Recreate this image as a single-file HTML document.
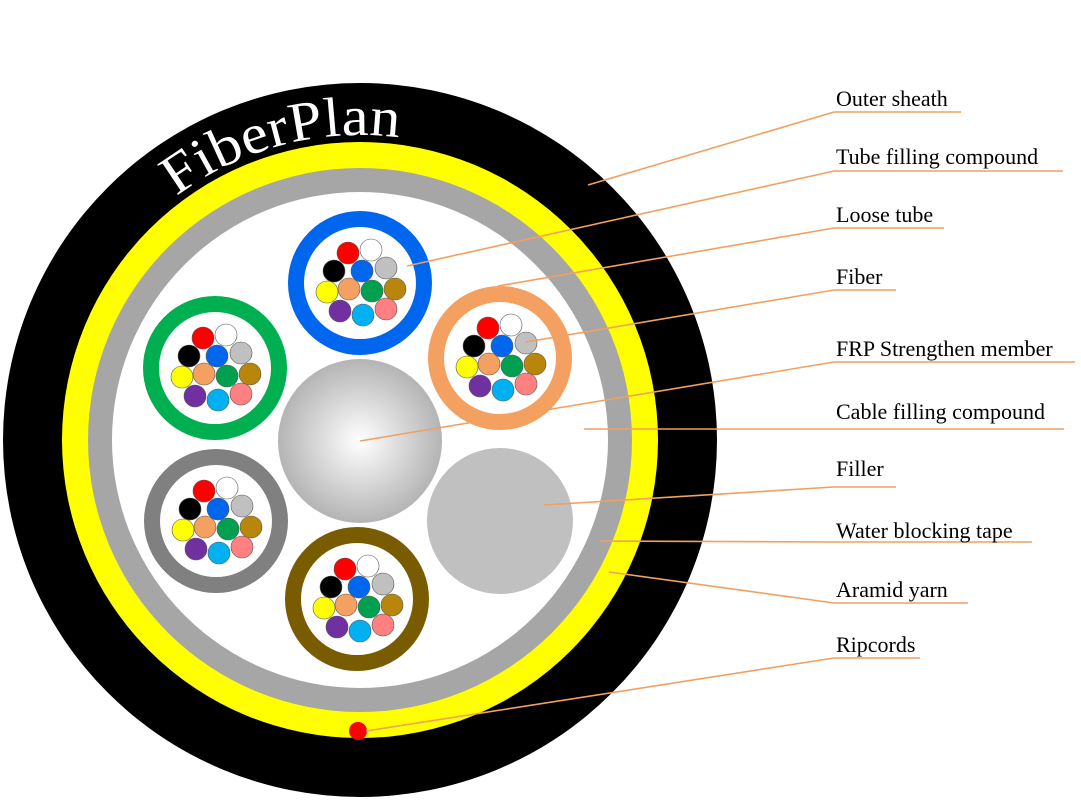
<!DOCTYPE html>
<html><head><meta charset="utf-8"><style>
html,body{margin:0;padding:0;background:#fff;}
svg{display:block;}
text.l{font-family:"Liberation Serif",serif;font-size:22px;fill:#000;}
</style></head><body>
<svg width="1081" height="800" viewBox="0 0 1081 800" xmlns="http://www.w3.org/2000/svg">
<defs>
<radialGradient id="frp" cx="0.5" cy="0.5" r="0.5">
<stop offset="0" stop-color="#ffffff"/><stop offset="1" stop-color="#b4b4b4"/>
</radialGradient>
<g id="fib" stroke="#555" stroke-width="0.6">
<circle cx="-12" cy="-30" r="11" fill="#ff0000"/>
<circle cx="11" cy="-33" r="11" fill="#ffffff"/>
<circle cx="-26" cy="-12" r="11" fill="#000000"/>
<circle cx="26" cy="-15" r="11" fill="#c0c0c0"/>
<circle cx="2" cy="-12" r="11" fill="#0066ee"/>
<circle cx="-33" cy="9" r="11" fill="#ffff00"/>
<circle cx="35" cy="6" r="11" fill="#b8860b"/>
<circle cx="-11" cy="6" r="11" fill="#f4a060"/>
<circle cx="12" cy="8" r="11" fill="#00a050"/>
<circle cx="-20" cy="28" r="11" fill="#7030a0"/>
<circle cx="26" cy="26" r="11" fill="#ff8080"/>
<circle cx="3" cy="32" r="11" fill="#00b0f0"/>
</g>
<path id="arc" d="M 176.4 196.4 A 305 305 0 0 1 397.2 137.3" fill="none"/>
</defs>
<circle cx="360" cy="440" r="357" fill="#000"/>
<circle cx="360" cy="440" r="298" fill="#ffff00"/>
<circle cx="360" cy="440" r="272" fill="#a6a6a6"/>
<circle cx="360" cy="440" r="248" fill="#fff"/>
<circle cx="358" cy="731" r="9" fill="#ff0000"/>
<text font-family="'Liberation Serif',serif" font-size="56" fill="#fff"><textPath href="#arc" textLength="236" lengthAdjust="spacingAndGlyphs">FiberPlan</textPath></text>
<circle cx="360" cy="441" r="82" fill="url(#frp)"/>
<circle cx="500" cy="521" r="73" fill="#c0c0c0"/>
<g fill="#fff" stroke-width="16">
<circle cx="360" cy="283" r="64" stroke="#0066ee"/>
<circle cx="215" cy="368" r="64" stroke="#00b050"/>
<circle cx="500" cy="358" r="64" stroke="#f4a060"/>
<circle cx="216" cy="521" r="64" stroke="#808080"/>
<circle cx="357" cy="599" r="64" stroke="#7a5c00"/>
</g>
<use href="#fib" x="360" y="283"/>
<use href="#fib" x="215" y="368"/>
<use href="#fib" x="500" y="358"/>
<use href="#fib" x="216" y="521"/>
<use href="#fib" x="357" y="599"/>
<g stroke="#f0a060" stroke-width="1.6" fill="none">
<polyline points="588,185 834,112 961,112"/>
<polyline points="407,266 834,171 1063,171"/>
<polyline points="498,286 834,228 944,228"/>
<polyline points="526,342 834,290 896,290"/>
<polyline points="360,441 834,362 1075,362"/>
<polyline points="584,429 834,429 1064,429"/>
<polyline points="544,505 834,487 896,487"/>
<polyline points="600,541 834,542 1032,542"/>
<polyline points="609,572 834,603 968,603"/>
<polyline points="366,731 834,658 920,658"/>
</g>
<text class="l" x="836" y="106">Outer sheath</text>
<text class="l" x="836" y="164">Tube filling compound</text>
<text class="l" x="836" y="222">Loose tube</text>
<text class="l" x="836" y="284">Fiber</text>
<text class="l" x="836" y="356">FRP Strengthen member</text>
<text class="l" x="836" y="419">Cable filling compound</text>
<text class="l" x="836" y="476">Filler</text>
<text class="l" x="836" y="538">Water blocking tape</text>
<text class="l" x="836" y="597">Aramid yarn</text>
<text class="l" x="836" y="652">Ripcords</text>
</svg>
</body></html>
